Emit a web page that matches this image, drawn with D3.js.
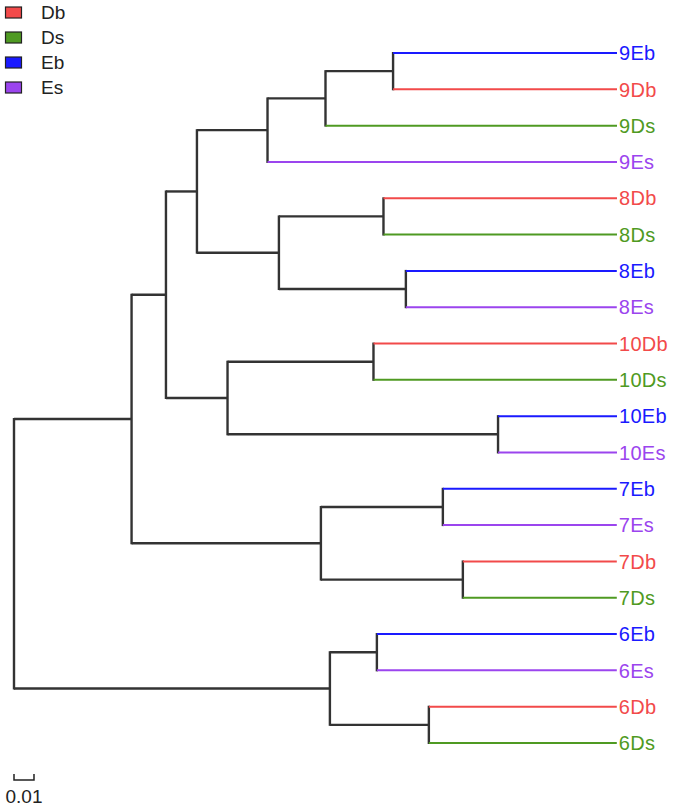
<!DOCTYPE html>
<html>
<head>
<meta charset="utf-8">
<script src="https://cdn.jsdelivr.net/npm/d3@7"></script>
<style>
  html, body { margin: 0; padding: 0; background: #fff; }
  svg { display: block; font-family: "Liberation Sans", Arial, sans-serif; }
</style>
</head>
<body>
<svg id="chart" width="675" height="807"></svg>
<script>
// ---- data ----
const groups = ["Db", "Ds", "Eb", "Es"];
const groupColors = ["#f24a4a", "#4f9a22", "#1a1aff", "#9b45ee"];

// tree topology: node ids, their parents, and branch lengths
const nodeIds = ["root", "A", "B", "C", "J", "D", "E", "F", "G", "H", "I",
  "9Eb", "9Db", "9Ds", "9Es", "N8a", "N8b", "8Db", "8Ds", "8Eb", "8Es",
  "N10a", "N10b", "10Db", "10Ds", "10Eb", "10Es",
  "N7a", "N7b", "7Eb", "7Es", "7Db", "7Ds",
  "N6a", "N6b", "6Eb", "6Es", "6Db", "6Ds"];
const nodeParents = ["", "root", "root", "A", "A", "C", "C", "D", "D", "F", "H",
  "I", "I", "H", "F", "G", "G", "N8a", "N8a", "N8b", "N8b",
  "E", "E", "N10a", "N10a", "N10b", "N10b",
  "J", "J", "N7a", "N7a", "N7b", "N7b",
  "B", "B", "N6a", "N6a", "N6b", "N6b"];
const branchLengths = [0, 0.0588, 0.158, 0.0172, 0.0947, 0.0155, 0.0308, 0.0353, 0.041, 0.029, 0.0338,
  0.112, 0.112, 0.1458, 0.1748, 0.0523, 0.0635, 0.1168, 0.1168, 0.1055, 0.1055,
  0.073, 0.1353, 0.1218, 0.1218, 0.0595, 0.0595,
  0.061, 0.071, 0.087, 0.087, 0.077, 0.077,
  0.0235, 0.0495, 0.12, 0.12, 0.094, 0.094];
const scaleBarValue = 0.01;
const scaleBarLabel = "0.01";

// ---- layout ----
const svg = d3.select("#chart");
const table = nodeIds.map((id, i) => ({ id, parent: nodeParents[i] || null, len: branchLengths[i] }));
const root = d3.stratify().id(d => d.id).parentId(d => d.parent)(table);

// cumulative distance from root
root.each(d => { d.dist = d.parent ? d.parent.dist + d.data.len : 0; });

const leaves = root.leaves();
const maxDist = d3.max(leaves, d => d.dist);

const x = d3.scaleLinear().domain([0, maxDist]).range([14, 617]);
const y = d3.scalePoint().domain(leaves.map(d => d.id)).range([53, 743]);

root.eachAfter(d => {
  if (!d.children) d.py = y(d.id);
  else d.py = (d.children[0].py + d.children[d.children.length - 1].py) / 2;
});

const color = d3.scaleOrdinal().domain(groups).range(groupColors);
const groupOf = id => id.replace(/^\d+/, "");

const g = svg.append("g");

// vertical connectors
g.selectAll("line.v")
  .data(root.descendants().filter(d => d.children))
  .join("line")
  .attr("class", "v")
  .attr("x1", d => x(d.dist)).attr("x2", d => x(d.dist))
  .attr("y1", d => d.children[0].py - 1).attr("y2", d => d.children[d.children.length - 1].py + 1)
  .attr("stroke", "#333").attr("stroke-width", 2.4);

// horizontal branches
g.selectAll("line.h")
  .data(root.descendants().filter(d => d.parent))
  .join("line")
  .attr("class", "h")
  .attr("x1", d => x(d.parent.dist)).attr("x2", d => x(d.dist))
  .attr("y1", d => d.py).attr("y2", d => d.py)
  .attr("stroke", d => d.children ? "#333" : color(groupOf(d.id)))
  .attr("stroke-width", d => d.children ? 2.4 : 2);

// tip labels
g.selectAll("text.tip")
  .data(leaves)
  .join("text")
  .attr("class", "tip")
  .attr("x", d => x(d.dist) + 2)
  .attr("y", d => d.py)
  .attr("dy", "0.36em")
  .attr("font-size", 20)
  .attr("letter-spacing", 0.3)
  .attr("fill", d => color(groupOf(d.id)))
  .text(d => d.id);

// legend
const legend = svg.append("g").selectAll("g")
  .data(groups)
  .join("g")
  .attr("transform", (d, i) => `translate(0, ${12.5 + i * 25})`);
legend.append("rect")
  .attr("x", 5.5).attr("y", -5.5).attr("width", 16).attr("height", 11)
  .attr("fill", d => color(d)).attr("stroke", "#222").attr("stroke-width", 1.2);
legend.append("text")
  .attr("x", 41).attr("y", 0).attr("dy", "0.36em")
  .attr("font-size", 19).attr("fill", "#222")
  .text(d => d);

// scale bar
const sbx0 = x(0), sbx1 = x(scaleBarValue);
const sb = svg.append("g");
sb.append("path")
  .attr("d", `M${sbx0},774 V780 H${sbx1} V774`)
  .attr("fill", "none").attr("stroke", "#222").attr("stroke-width", 1.5);
sb.append("text")
  .attr("x", (sbx0 + sbx1) / 2).attr("y", 803)
  .attr("text-anchor", "middle").attr("font-size", 19).attr("fill", "#222")
  .text(scaleBarLabel);
</script>
</body>
</html>
